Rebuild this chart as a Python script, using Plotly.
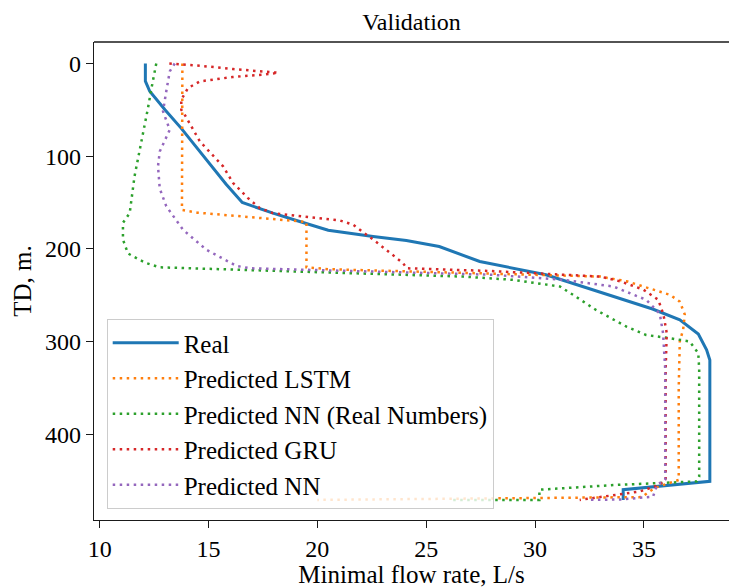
import plotly.graph_objects as go

# Depth profiles: minimal flow rate (L/s) vs true depth (m)
real_x = [12.1, 12.1, 12.3, 13.0, 13.75, 14.44, 15.13, 15.8, 16.55, 17.96, 19.19, 20.5,
          22.56, 24.09, 25.6, 27.46, 30.5, 33.6, 35.4, 36.65, 37.5, 37.88, 38.03, 38.03,
          34.05, 34.05]
real_y = [0, 19, 30, 50, 70, 90, 111, 130, 150, 161.5, 170.5, 180,
          186.7, 191, 197.5, 213.7, 228, 251.5, 265, 276.7, 292, 309, 320, 451,
          460, 471]

lstm_x = [13.8, 13.78, 13.78, 14.5, 16.5, 19.5, 19.5, 19.5, 20.5, 25.0, 30.0, 33.0,
          34.2, 35.4, 36.2, 36.65, 36.88, 36.8, 36.65, 36.6, 36.6, 35.5, 34.9, 20.0]
lstm_y = [0, 100, 158, 161, 165, 171, 200, 220, 222, 225, 228, 230,
          235, 243.5, 249.7, 257, 271, 287.5, 300, 350, 449.5, 458, 468, 471]

nn_real_x = [12.6, 12.53, 12.37, 12.22, 12.0, 11.84, 11.6, 11.38, 11.07, 11.07, 11.3,
             11.84, 12.15, 12.76, 16.43, 22.87, 26.7, 29.0, 31.14, 31.75, 32.8, 34.2,
             35.1, 36.2, 37.1, 37.5, 37.54, 37.54, 37.43, 33.6, 30.2, 30.2, 26.2]
nn_real_y = [0, 10, 28, 48, 73, 93, 122, 161.5, 172, 190, 205,
             212, 215.5, 220, 222.7, 227, 230, 233.5, 240.7, 249.7, 266, 284,
             293, 296.5, 300, 312.6, 330, 446, 451, 455, 460, 471, 471]

gru_x = [13.2, 14.6, 16.13, 17.5, 18.2, 17.5, 16.1, 14.6, 14.06, 13.75, 13.75, 13.9,
         14.6, 15.67, 16.13, 16.8, 17.35, 17.96, 19.5, 21.03, 21.64, 22.56, 23.94, 24.1,
         28.0, 33.0, 33.9, 34.97, 35.66, 35.9, 36.05, 36.0, 36.0, 35.7, 34.8, 32.05]
gru_y = [0, 2.4, 6, 8.5, 10, 12, 14.6, 19.3, 26.5, 39, 50, 55,
         84, 111, 129, 145, 156, 161.5, 165.8, 169.4, 174, 190, 215.5, 221,
         224, 230, 235, 244, 255, 271, 291, 330, 449, 455, 462, 471]

nn_x = [13.45, 13.22, 13.06, 12.91, 13.22, 12.76, 12.68, 12.76, 13.06, 13.83, 14.9,
        16.28, 16.9, 22.0, 28.0, 31.3, 33.6, 35.1, 35.73, 35.88, 35.98, 35.98, 35.6,
        35.42, 34.0, 32.5]
nn_y = [0, 8.5, 30, 51.7, 71.5, 95, 111, 135, 154, 179.5, 201,
        218.4, 221, 224, 228, 233.5, 240.7, 255, 270, 291, 330, 449, 455,
        467.5, 470.5, 471]

x_ticks = [10, 15, 20, 25, 30, 35]
y_ticks = [0, 100, 200, 300, 400]

FONT = "Liberation Serif, Times New Roman, serif"
DOT = "2.5px,4.5px"

fig = go.Figure()
fig.add_trace(go.Scatter(x=real_x, y=real_y, mode="lines", name="Real",
                         line=dict(color="#1f77b4", width=3)))
fig.add_trace(go.Scatter(x=lstm_x, y=lstm_y, mode="lines", name="Predicted LSTM",
                         line=dict(color="#ff7f0e", width=2.5, dash=DOT)))
fig.add_trace(go.Scatter(x=nn_real_x, y=nn_real_y, mode="lines",
                         name="Predicted NN (Real Numbers)",
                         line=dict(color="#2ca02c", width=2.5, dash=DOT)))
fig.add_trace(go.Scatter(x=gru_x, y=gru_y, mode="lines", name="Predicted GRU",
                         line=dict(color="#d62728", width=2.5, dash=DOT)))
fig.add_trace(go.Scatter(x=nn_x, y=nn_y, mode="lines", name="Predicted NN",
                         line=dict(color="#9467bd", width=2.5, dash=DOT)))

axis_common = dict(
    showline=True, linecolor="#1a1a1a", linewidth=1.4,
    ticks="outside", ticklen=7, tickwidth=1.4, tickcolor="#1a1a1a",
    showgrid=False, zeroline=False,
    tickfont=dict(family=FONT, size=24, color="black"),
)

fig.update_layout(
    width=729, height=588,
    margin=dict(l=94, r=0, t=42, b=68),
    paper_bgcolor="white", plot_bgcolor="white",
    font=dict(family=FONT, size=24, color="black"),
    title=dict(text="Validation", x=0.5645, xanchor="center",
               y=1 - 22 / 588, yanchor="middle", yref="container",
               font=dict(family=FONT, size=24, color="black")),
    xaxis=dict(range=[9.74, 38.91], tickvals=x_ticks,
               title=dict(text="Minimal flow rate, L/s", standoff=6,
                          font=dict(family=FONT, size=25)),
               **axis_common),
    yaxis=dict(range=[492.7, -23.2], tickvals=y_ticks,
               title=dict(text="TD, m.", standoff=6,
                          font=dict(family=FONT, size=25)),
               **axis_common),
    legend=dict(x=0.02, y=0.023, xanchor="left", yanchor="bottom",
                bgcolor="rgba(255,255,255,0.8)", bordercolor="#cccccc",
                borderwidth=1, font=dict(family=FONT, size=25, color="black"),
                itemwidth=66),
    showlegend=True,
    shapes=[dict(type="line", xref="paper", yref="paper", x0=0, x1=1, y0=1, y1=1,
                 line=dict(color="#1a1a1a", width=1.4))],
)

fig.write_html("out.html")
